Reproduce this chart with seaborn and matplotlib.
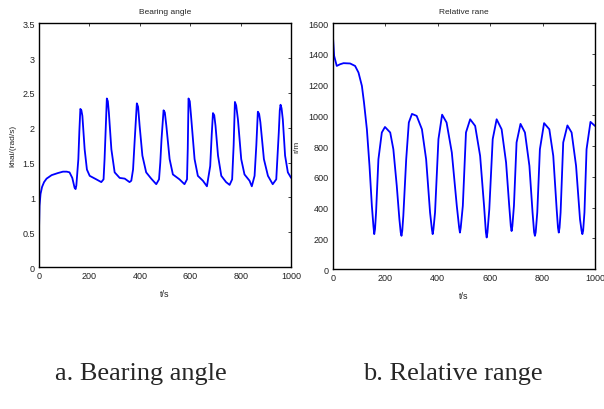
import numpy as np
import pandas as pd
import matplotlib
matplotlib.use("Agg")
import matplotlib.pyplot as plt
import seaborn as sns

# Bearing angle data (t/s, khai/(rad/s))
t_bearing = [0, 2, 6, 12, 20, 30, 50, 75, 95, 110, 121, 132, 141, 145, 148, 156, 160, 164,
             168, 172, 181, 190, 201, 227, 247, 256, 260, 264, 269, 273, 277, 287, 300, 320,
             340, 359, 366, 373, 379, 388, 393, 399, 410, 425, 445, 465, 476, 481, 486, 494,
             499, 505, 518, 531, 557, 577, 587, 590, 593, 598, 603, 617, 630, 650, 666, 679,
             685, 690, 695, 700, 710, 723, 742, 756, 766, 772, 777, 782, 789, 802, 815, 835,
             844, 855, 862, 868, 873, 878, 892, 908, 927, 941, 951, 955, 958, 962, 967, 976,
             987, 1000]
khai = [0.54, 0.88, 1.05, 1.15, 1.22, 1.27, 1.32, 1.35, 1.37, 1.37, 1.36, 1.28, 1.14, 1.12,
        1.17, 1.55, 1.95, 2.27, 2.25, 2.17, 1.69, 1.40, 1.31, 1.26, 1.22, 1.26, 1.55, 1.93,
        2.42, 2.38, 2.22, 1.69, 1.36, 1.28, 1.27, 1.22, 1.24, 1.40, 1.79, 2.35, 2.30, 2.03,
        1.60, 1.36, 1.27, 1.19, 1.26, 1.50, 1.84, 2.25, 2.22, 2.03, 1.55, 1.33, 1.26, 1.19,
        1.26, 1.70, 2.42, 2.38, 2.17, 1.55, 1.31, 1.24, 1.16, 1.45, 1.90, 2.21, 2.18, 2.03,
        1.60, 1.31, 1.22, 1.18, 1.26, 1.75, 2.37, 2.32, 2.12, 1.55, 1.33, 1.24, 1.16, 1.31,
        1.75, 2.23, 2.20, 2.08, 1.55, 1.31, 1.19, 1.26, 1.93, 2.25, 2.33, 2.28, 2.12, 1.60,
        1.36, 1.28]

# Relative range data (t/s, r/m)
t_range = [0, 5, 15, 28, 41, 66, 85, 98, 111, 119, 130, 140, 149, 155, 158, 161, 165, 174,
           187, 199, 219, 231, 244, 254, 259, 262, 265, 269, 280, 290, 302, 320, 340, 356,
           371, 378, 381, 384, 390, 403, 417, 434, 454, 473, 482, 485, 488, 496, 508, 524,
           543, 562, 577, 584, 587, 590, 597, 610, 625, 644, 661, 673, 679, 682, 685, 691,
           701, 716, 733, 750, 762, 768, 771, 774, 780, 790, 806, 826, 841, 854, 859, 862,
           865, 869, 879, 895, 911, 928, 943, 949, 952, 955, 960, 968, 983, 1000]
r = [1528, 1388, 1322, 1333, 1340, 1338, 1322, 1279, 1192, 1084, 910, 672, 412, 280, 228,
     260, 369, 715, 889, 925, 889, 780, 542, 325, 240, 217, 250, 347, 715, 954, 1010, 997,
     910, 715, 369, 260, 228, 260, 369, 846, 1005, 954, 759, 412, 270, 238, 270, 412, 889,
     975, 932, 737, 412, 240, 206, 240, 390, 846, 975, 910, 694, 412, 280, 248, 280, 412,
     824, 945, 889, 672, 369, 240, 217, 240, 369, 780, 950, 910, 737, 390, 270, 238, 270,
     369, 824, 935, 889, 672, 325, 250, 228, 250, 369, 780, 958, 932]

df_a = pd.DataFrame({"t": t_bearing, "v": khai})
df_b = pd.DataFrame({"t": t_range, "v": r})

sns.set_style("white")
plt.rcParams["font.family"] = ["Liberation Sans", "DejaVu Sans"]
plt.rcParams["xtick.direction"] = "in"
plt.rcParams["ytick.direction"] = "in"

fig = plt.figure(figsize=(6.04, 4.10), dpi=100)
ax1 = fig.add_axes([0.0646, 0.346, 0.4174, 0.595])
ax2 = fig.add_axes([0.551, 0.341, 0.434, 0.600])

sns.lineplot(data=df_a, x="t", y="v", ax=ax1, color="#0000ff", linewidth=1.3)
sns.lineplot(data=df_b, x="t", y="v", ax=ax2, color="#0000ff", linewidth=1.3)

ax1.set_xlim(0, 1000)
ax1.set_ylim(0, 3.5)
ax1.set_yticks(np.arange(0, 3.6, 0.5))
ax1.set_yticklabels(["0", "0.5", "1", "1.5", "2", "2.5", "3", "3.5"])
ax1.set_title("Bearing angle", fontsize=6, pad=7)
ax1.set_ylabel("khai/(rad/s)", fontsize=6, labelpad=4)

ax2.set_xlim(0, 1000)
ax2.set_ylim(0, 1600)
ax2.set_yticks(np.arange(0, 1601, 200))
ax2.set_title("Relative rane", fontsize=6, pad=7)
ax2.set_ylabel("r/m", fontsize=6, labelpad=6)

for ax in (ax1, ax2):
    ax.set_xticks(np.arange(0, 1001, 200))
    ax.set_xlabel("t/s", fontsize=6.5, labelpad=6)
    ax.tick_params(labelsize=6.5, length=2.5, width=0.6, colors="#222222", pad=3,
                   top=True, right=True)
    for s in ax.spines.values():
        s.set_linewidth(1.0)
        s.set_color("black")

fig.text(0.234, 0.088, "a. Bearing angle", family="Liberation Serif", fontsize=19,
         ha="center", va="center")
fig.text(0.749, 0.088, "b. Relative range", family="Liberation Serif", fontsize=19,
         ha="center", va="center")

fig.savefig("out.png", dpi=100)
